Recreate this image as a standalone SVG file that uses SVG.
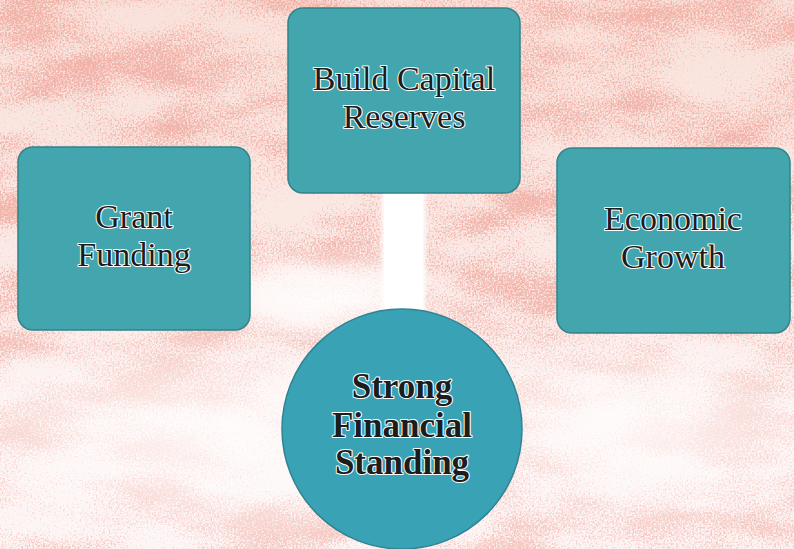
<svg xmlns="http://www.w3.org/2000/svg" width="794" height="549" viewBox="0 0 794 549">
  <defs>
    <!-- mottled pink paper texture -->
    <filter id="marble" x="0" y="0" width="100%" height="100%" color-interpolation-filters="sRGB">
      <feTurbulence type="fractalNoise" baseFrequency="0.009 0.022" numOctaves="3" seed="11" result="bigRaw"/>
      <feColorMatrix in="bigRaw" type="matrix" values="1 0 0 0 0  1 0 0 0 0  1 0 0 0 0  0 0 0 0 1" result="big"/>
      <feTurbulence type="fractalNoise" baseFrequency="0.55" numOctaves="2" seed="4" result="grainRaw"/>
      <feColorMatrix in="grainRaw" type="matrix" values="1 0 0 0 0  1 0 0 0 0  1 0 0 0 0  0 0 0 0 1" result="grain"/>
      <feComposite in="big" in2="grain" operator="arithmetic" k1="0" k2="1" k3="1.2" k4="-0.92" result="mix"/>
      <feColorMatrix in="mix" type="matrix" values="0 0 0 0 0.93  0 0 0 0 0.58  0 0 0 0 0.53  2.6 0 0 0 -0.22"/>
    </filter>
    <filter id="soft" x="-30%" y="-30%" width="160%" height="160%">
      <feGaussianBlur stdDeviation="18"/>
    </filter>
    <filter id="edge" x="-10%" y="-10%" width="120%" height="120%">
      <feGaussianBlur stdDeviation="2"/>
    </filter>
    <linearGradient id="paper" x1="0" y1="0" x2="0" y2="1">
      <stop offset="0" stop-color="#f9e2db"/>
      <stop offset="0.55" stop-color="#fbebe8"/>
      <stop offset="1" stop-color="#fdf3f3"/>
    </linearGradient>
    <linearGradient id="wash" x1="0" y1="0" x2="0" y2="1">
      <stop offset="0" stop-color="#fff" stop-opacity="0"/>
      <stop offset="0.55" stop-color="#fff" stop-opacity="0"/>
      <stop offset="0.75" stop-color="#fff" stop-opacity="0.35"/>
      <stop offset="1" stop-color="#fff" stop-opacity="0.2"/>
    </linearGradient>
    <radialGradient id="fadeLow" cx="0.5" cy="0.5" r="0.5">
      <stop offset="0" stop-color="#fff" stop-opacity="0.75"/>
      <stop offset="1" stop-color="#fff" stop-opacity="0"/>
    </radialGradient>
    <style>
      .box { fill: #43a5ae; stroke: #33838b; stroke-width: 1.5; }
      .disc { fill: #3aa2b5; stroke: #2f8394; stroke-width: 1.5; }
      .lbl { font-family: "Liberation Serif", "Times New Roman", serif; font-size: 34px; fill: #1d1d1d;
             stroke: #ffffff; stroke-width: 2; stroke-linejoin: round; paint-order: stroke; text-anchor: middle; }
      .bold { font-weight: bold; font-size: 35px; }
    </style>
  </defs>

  <!-- background -->
  <rect width="794" height="549" fill="url(#paper)"/>
  <rect width="794" height="549" filter="url(#marble)" opacity="0.6"/>
  <rect width="794" height="549" fill="url(#wash)"/>
  <!-- lighter patches -->
  <ellipse cx="200" cy="440" rx="260" ry="120" fill="url(#fadeLow)"/>
  <ellipse cx="640" cy="430" rx="200" ry="110" fill="url(#fadeLow)"/>
  <ellipse cx="330" cy="300" rx="150" ry="45" fill="url(#fadeLow)"/>

  <!-- connectors -->
  <g id="connectors">
    <rect x="250" y="262" width="140" height="60" fill="#fff" opacity="0.55" filter="url(#soft)"/>
    <rect x="382" y="188" width="43" height="130" fill="#ffffff" filter="url(#edge)"/>
    <rect x="384" y="188" width="39" height="128" fill="#ffffff"/>
  </g>

  <g id="node-reserves">
    <rect class="box" x="288" y="8" width="232" height="185" rx="15"/>
    <text class="lbl" x="404" y="90">Build Capital</text>
    <text class="lbl" x="404" y="128">Reserves</text>
  </g>

  <g id="node-grant">
    <rect class="box" x="18" y="147" width="232" height="183" rx="15"/>
    <text class="lbl" x="134" y="228">Grant</text>
    <text class="lbl" x="134" y="266">Funding</text>
  </g>

  <g id="node-growth">
    <rect class="box" x="557" y="148" width="233" height="185" rx="15"/>
    <text class="lbl" x="673" y="230">Economic</text>
    <text class="lbl" x="673" y="268">Growth</text>
  </g>

  <g id="node-standing">
    <circle class="disc" cx="402" cy="429" r="120"/>
    <text class="lbl bold" x="402" y="398">Strong</text>
    <text class="lbl bold" x="402" y="437">Financial</text>
    <text class="lbl bold" x="402" y="474">Standing</text>
  </g>
</svg>
